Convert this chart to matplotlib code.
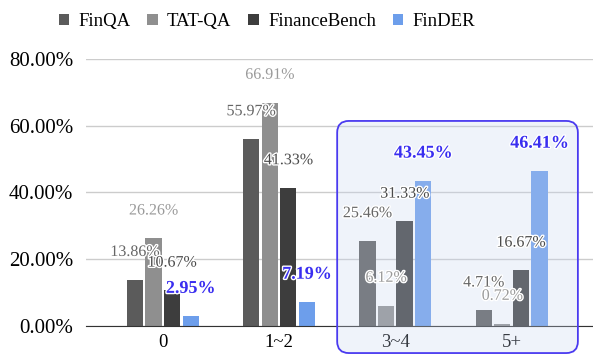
import matplotlib.pyplot as plt
import matplotlib.patheffects as pe
from matplotlib.patches import FancyBboxPatch
import numpy as np

categories = ["0", "1~2", "3~4", "5+"]
series = ["FinQA", "TAT-QA", "FinanceBench", "FinDER"]
values = {
    "FinQA": [13.86, 55.97, 25.46, 4.71],
    "TAT-QA": [26.26, 66.91, 6.12, 0.72],
    "FinanceBench": [10.67, 41.33, 31.33, 16.67],
    "FinDER": [2.95, 7.19, 43.45, 46.41],
}
colors = ["#5b5b5b", "#8f8f8f", "#3d3d3d", "#6d9eeb"]
label_colors = ["#666666", "#9a9a9a", "#4a4a4a", "#3a2ef0"]

plt.rcParams["font.family"] = ["Liberation Serif", "DejaVu Serif"]

fig = plt.figure(figsize=(5.93, 3.64), dpi=100)
ax = fig.add_axes([0.145, 0.1044, 0.855, 0.734])

x = np.arange(len(categories))
step = 0.16
width = 0.14
for i, s in enumerate(series):
    xs = x + (i - 1.5) * step
    ax.bar(xs, values[s], width, color=colors[i], label=s, zorder=2)
    for xi, v in zip(xs, values[s]):
        bold = s == "FinDER"
        ax.annotate("%.2f%%" % v, (xi, v), xytext=(0, 20), textcoords="offset points",
                    ha="center", va="center", fontsize=13 if bold else 11.5,
                    fontweight="bold" if bold else "normal", color=label_colors[i],
                    zorder=5,
                    path_effects=[pe.withStroke(linewidth=2, foreground="white")])

# highlight box over 3~4 and 5+
box = FancyBboxPatch((1.5, -8.1), 2.07, 69.5, boxstyle="round,pad=0,rounding_size=0.1",
                     mutation_aspect=34.8, transform=ax.transData, clip_on=False,
                     facecolor=(0.78, 0.84, 0.94, 0.28), edgecolor="#4a3af0",
                     linewidth=1.3, zorder=4)
ax.add_patch(box)

ax.set_xlim(-0.66, 3.70)
ax.set_ylim(0, 80)
ax.set_yticks([0, 20, 40, 60, 80])
ax.set_yticklabels(["%.2f%%" % t for t in [0, 20, 40, 60, 80]], fontsize=15)
ax.set_xticks(x)
ax.set_xticklabels(categories, fontsize=13.5)
ax.tick_params(axis="y", length=0, pad=9)
ax.tick_params(axis="x", length=0, pad=6)
ax.grid(axis="y", color="#cccccc", linewidth=1, zorder=0)
for side in ["top", "right", "left"]:
    ax.spines[side].set_visible(False)
ax.spines["bottom"].set_color("#333333")
ax.spines["bottom"].set_zorder(3)

fig.legend(loc="center", bbox_to_anchor=(0.45, 0.94), ncol=4, frameon=False,
           fontsize=13.5, handlelength=0.55, handleheight=0.55, handletextpad=0.5,
           columnspacing=0.9)

fig.savefig("out.png", dpi=100)
